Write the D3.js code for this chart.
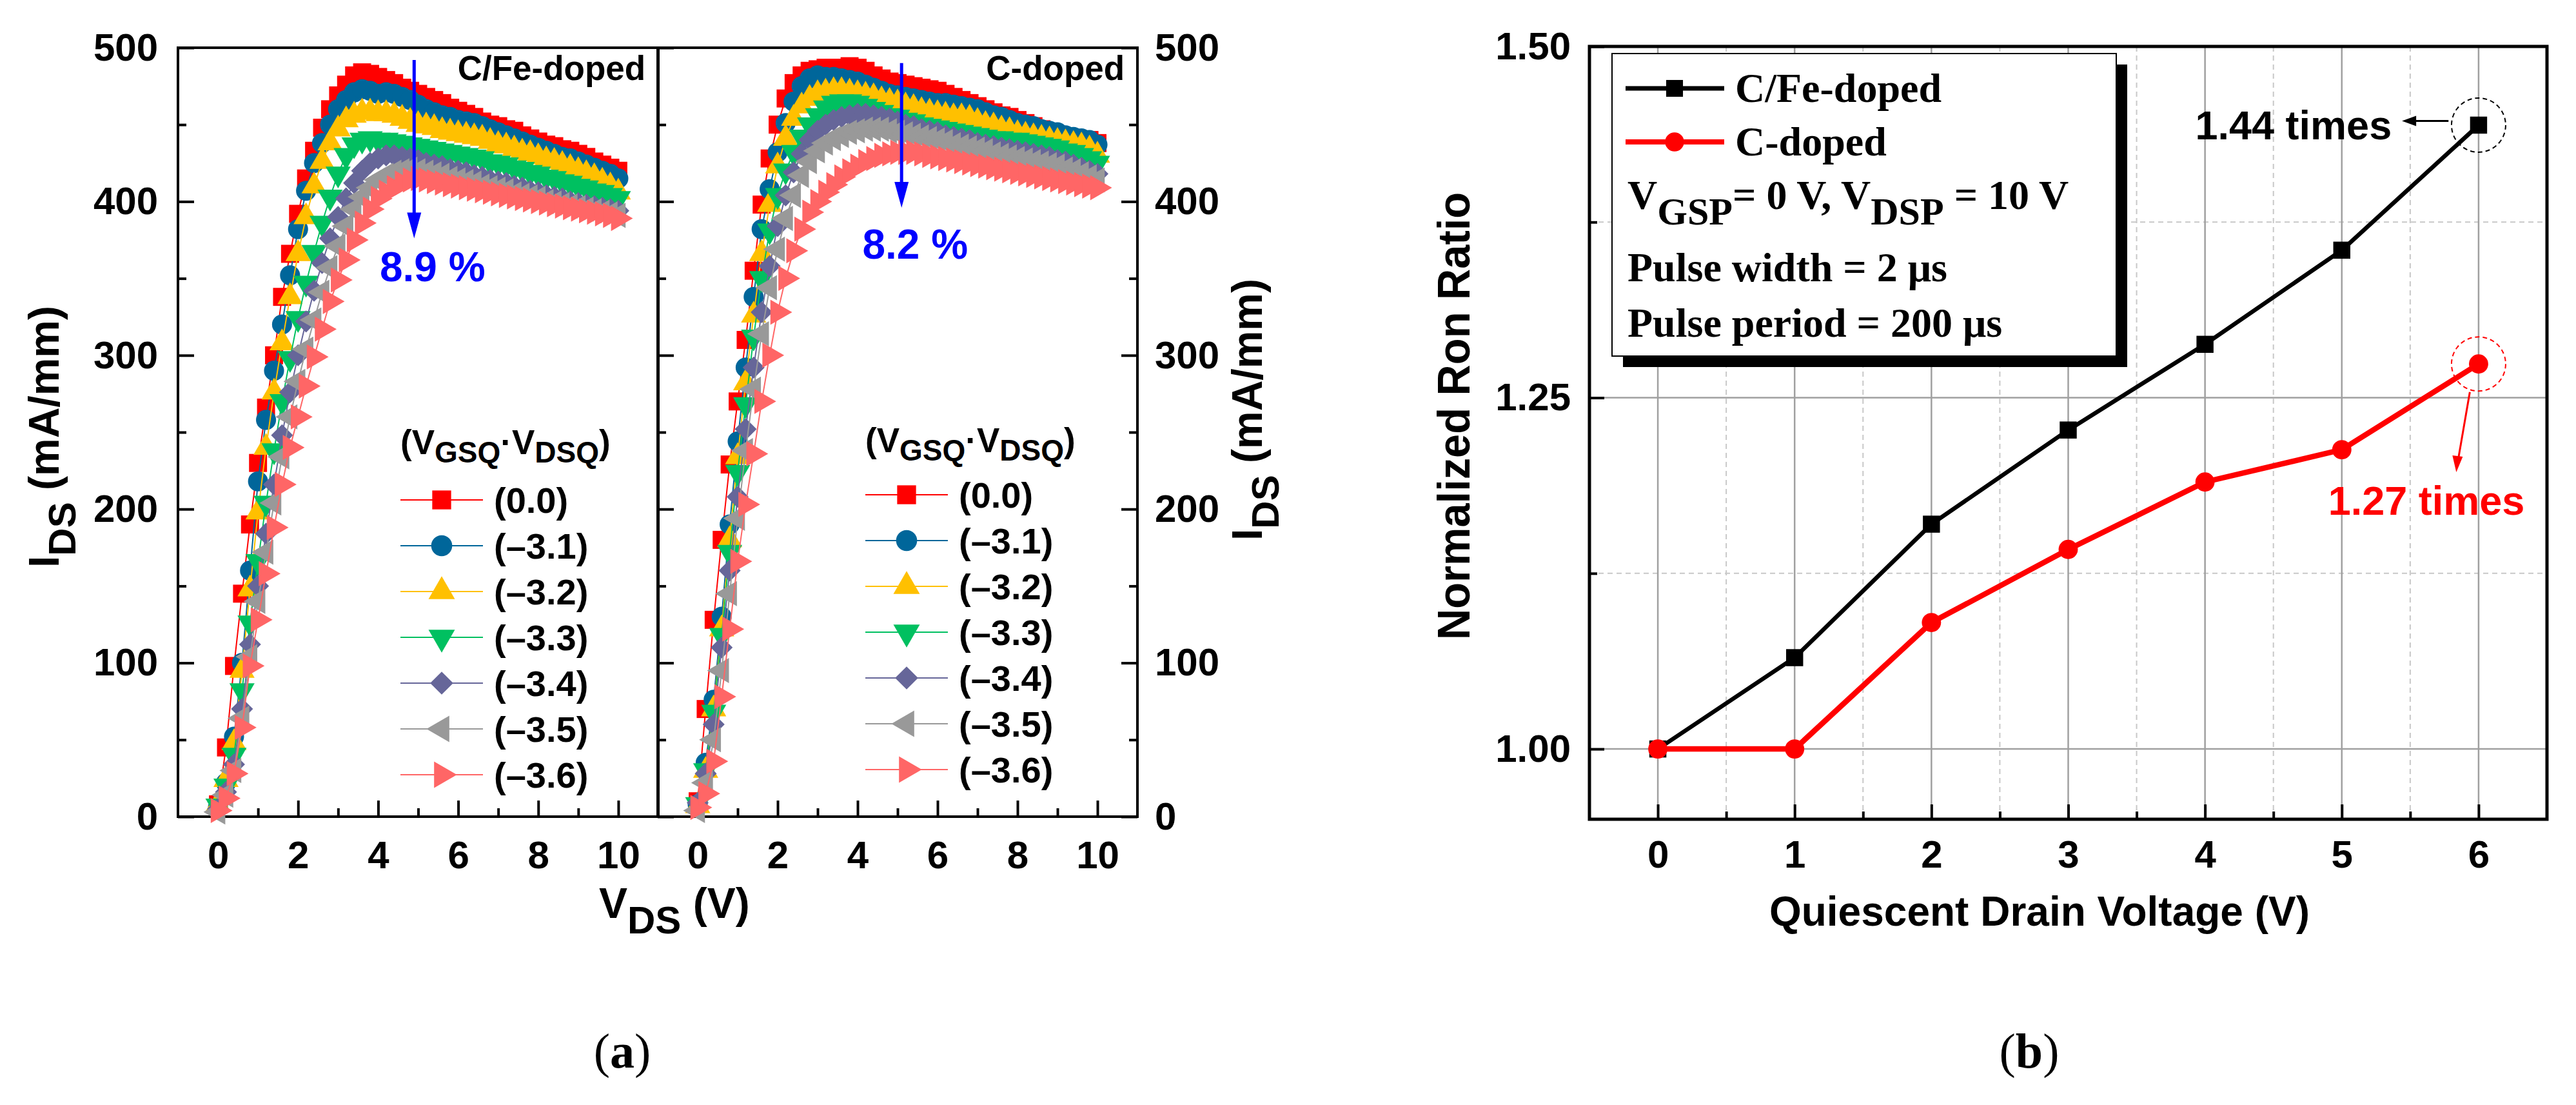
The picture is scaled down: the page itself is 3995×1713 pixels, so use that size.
<!DOCTYPE html>
<html>
<head>
<meta charset="utf-8">
<script src="https://cdn.jsdelivr.net/npm/d3@7"></script>
<style>
  body { margin: 0; background: #fff; }
</style>
</head>
<body>
<svg id="chart" width="3995" height="1713"></svg>
<script>
// ---- data: pulsed I-V (panel a) ----
const ivVoltage = [0,0.2,0.4,0.6,0.8,1,1.2,1.4,1.6,1.8,2,2.2,2.4,2.6,2.8,3,3.2,3.4,3.6,3.8,4,4.2,4.4,4.6,4.8,5,5.2,5.4,5.6,5.8,6,6.2,6.4,6.6,6.8,7,7.2,7.4,7.6,7.8,8,8.2,8.4,8.6,8.8,9,9.2,9.4,9.6,9.8,10];

const quiescentLabels = ["(0.0)", "(\u20133.1)", "(\u20133.2)", "(\u20133.3)", "(\u20133.4)", "(\u20133.5)", "(\u20133.6)"];
const seriesColors = ["#ff0000", "#00669a", "#ffc000", "#00c060", "#666699", "#999999", "#ff6666"];
const seriesShapes = ["square", "circle", "up", "down", "diamond", "left", "right"];

// C/Fe-doped buffer
const cfe00 = [8,45,98,145,190,230,266,300,338,366,392,415,433,448,460,469,476,482,484,483,481,479,477,474,472,470,468,466,464,461,459,457,455,452,450,449,447,446,443,441,439,437,436,434,433,431,429,426,424,422,420];
const cfe31 = [6,22,52,100,160,218,258,290,320,352,382,407,425,438,450,460,466,471,473,472,470,471,470,468,466,463,460,458,456,455,453,452,451,449,447,445,443,441,439,437,435,433,431,429,428,426,424,422,420,418,415];
const cfe32 = [8,24,48,95,148,198,240,276,308,338,366,390,410,426,438,447,453,456,458,458,457,457,456,454,452,450,449,448,446,445,444,443,442,441,439,437,436,434,432,431,429,427,426,424,422,420,418,416,413,410,406];
const cfe33 = [7,20,40,82,126,166,204,238,270,298,324,347,367,386,403,418,430,437,440,441,440,440,439,438,437,436,435,434,433,432,431,430,429,428,426,425,424,422,421,419,418,416,415,413,412,410,409,407,406,404,402];
const cfe34 = [5,16,34,70,112,150,184,216,248,276,300,322,342,360,376,390,402,412,420,425,428,430,430,429,428,427,425,424,423,421,420,419,417,416,414,413,412,410,409,407,406,404,403,402,400,399,398,397,396,395,394];
const cfe35 = [3,14,30,64,104,140,172,204,234,260,283,304,323,341,357,371,384,395,403,409,414,417,419,420,421,420,419,418,417,415,414,413,412,410,409,408,407,405,404,403,402,400,399,398,397,396,395,394,393,392,391];
const cfe36 = [4,12,28,58,98,128,158,188,216,240,260,280,299,317,335,349,362,375,386,395,402,406,409,412,414,415,414,413,412,411,410,409,408,407,406,405,404,403,402,401,400,399,398,397,396,395,394,393,392,391,389];

// C-doped buffer
const cd00 = [10,70,128,180,229,270,310,355,398,428,450,467,477,482,485,486,487,487,487,488,487,485,482,480,478,477,476,475,474,473,472,470,468,466,464,462,460,458,456,455,453,451,449,447,445,443,442,441,440,440,438];
const cd31 = [8,35,76,130,190,244,292,338,382,408,432,451,465,475,480,482,481,481,480,479,478,476,474,472,470,469,468,467,466,465,464,464,463,462,461,460,458,456,455,453,451,450,449,447,446,445,443,442,441,440,437];
const cd32 = [7,30,70,122,180,234,282,326,366,398,423,441,454,462,467,470,471,472,472,471,470,469,468,466,465,464,462,461,459,458,457,456,455,455,454,452,450,449,447,446,444,443,442,441,440,439,438,437,436,434,430];
const cd33 = [8,30,68,118,172,224,268,312,350,381,404,420,432,442,450,456,461,464,465,465,464,462,460,458,456,455,453,452,450,449,448,447,446,445,444,443,442,441,441,440,440,439,438,437,436,435,433,432,430,428,425];
const cd34 = [9,28,60,110,160,208,252,292,328,358,384,404,419,431,440,446,450,453,455,456,457,457,456,455,454,452,450,449,447,446,445,443,442,441,440,438,437,436,435,434,433,432,431,430,429,427,426,424,422,420,418];
const cd35 = [4,22,50,95,145,194,238,278,314,344,369,389,404,417,426,433,438,441,443,445,446,447,447,447,446,445,444,443,442,441,440,439,437,436,435,434,433,431,430,429,428,427,426,425,424,423,421,420,418,416,414];
const cd36 = [6,15,36,78,122,166,203,236,270,300,328,350,368,382,393,400,406,411,416,420,423,426,428,430,431,432,432,432,431,430,429,428,427,426,425,424,423,422,421,420,419,418,417,416,415,414,413,412,411,410,409];

const idsTicks = [0, 100, 200, 300, 400, 500];
const idsMinor = [50, 150, 250, 350, 450];
const vdsTicks = [0, 2, 4, 6, 8, 10];
const vdsMinor = [1, 3, 5, 7, 9];

// ---- data: normalized Ron (panel b) ----
const drainVoltage = [0, 1, 2, 3, 4, 5, 6];
const ronCFe = [1.000, 1.065, 1.160, 1.227, 1.288, 1.355, 1.444];
const ronC = [1.000, 1.000, 1.090, 1.142, 1.190, 1.213, 1.274];
const ronTicks = [1.00, 1.25, 1.50];
const ronMinor = [1.125, 1.375];

const SANS = '"Liberation Sans", Arial, sans-serif';
const SERIF = '"Liberation Serif", "Times New Roman", serif';

const svg = d3.select("#chart");

function markerPath(shape, size) {
    const sym = d3.symbol().size(size);
    if (shape === "square" || shape === "diamond") return sym.type(d3.symbolSquare)();
    if (shape === "circle") return sym.type(d3.symbolCircle)();
    return sym.type(d3.symbolTriangle)();
}
function markerRotate(shape) {
    return { down: 180, left: -90, right: 90, diamond: 45 }[shape] || 0;
}
function markerSize(shape) {
    return { square: 780, circle: 760, diamond: 580 }[shape] || 660;
}

function styleAxis(g, size) {
    g.select(".domain").remove();
    g.selectAll(".tick line").attr("stroke", "#000").attr("stroke-width", 4);
    g.selectAll("text")
        .attr("font-family", SANS)
        .attr("font-weight", "bold")
        .attr("font-size", size)
        .attr("fill", "#000");
}

// ===================== panel (a) =====================
const yIds = d3.scaleLinear().domain([0, 500]).range([1266, 74]);

function drawIVPanel(range, seriesList, side) {
    const x = d3.scaleLinear().domain([-1, 11]).range(range);
    const g = svg.append("g");

    // bottom axis
    g.append("g").attr("transform", `translate(0,${yIds(0)})`)
        .call(d3.axisBottom(x).tickValues(vdsTicks).tickSize(-25).tickPadding(37))
        .call(a => styleAxis(a, 60));
    g.append("g").attr("transform", `translate(0,${yIds(0)})`)
        .call(d3.axisBottom(x).tickValues(vdsMinor).tickSize(-13).tickFormat(""))
        .call(a => styleAxis(a, 60));

    // left axis (ticks inward)
    const left = d3.axisLeft(yIds).tickValues(idsTicks).tickSize(-25).tickPadding(31);
    if (side !== "left") left.tickFormat("");
    g.append("g").attr("transform", `translate(${range[0]},0)`).call(left).call(a => styleAxis(a, 60));
    g.append("g").attr("transform", `translate(${range[0]},0)`)
        .call(d3.axisLeft(yIds).tickValues(idsMinor).tickSize(-13).tickFormat(""))
        .call(a => styleAxis(a, 60));

    if (side === "right") {
        g.append("g").attr("transform", `translate(${range[1]},0)`)
            .call(d3.axisRight(yIds).tickValues(idsTicks).tickSize(-25).tickPadding(27))
            .call(a => styleAxis(a, 60));
        g.append("g").attr("transform", `translate(${range[1]},0)`)
            .call(d3.axisRight(yIds).tickValues(idsMinor).tickSize(-13).tickFormat(""))
            .call(a => styleAxis(a, 60));
    }

    // frame
    g.append("rect")
        .attr("x", range[0]).attr("y", yIds(500))
        .attr("width", range[1] - range[0]).attr("height", yIds(0) - yIds(500))
        .attr("fill", "none").attr("stroke", "#000").attr("stroke-width", 4);

    const line = d3.line().x(d => x(d[0])).y(d => yIds(d[1]));

    seriesList.forEach((vals, i) => {
        const pts = ivVoltage.map((v, k) => [v, vals[k]]);
        const sg = g.append("g");
        sg.append("path").datum(pts)
            .attr("d", line).attr("fill", "none")
            .attr("stroke", seriesColors[i]).attr("stroke-width", 2);
        sg.selectAll("path.m").data(pts).enter().append("path")
            .attr("class", "m")
            .attr("d", markerPath(seriesShapes[i], markerSize(seriesShapes[i])))
            .attr("transform", d => `translate(${x(d[0])},${yIds(d[1])}) rotate(${markerRotate(seriesShapes[i])})`)
            .attr("fill", seriesColors[i]);
    });
    return { g, x };
}

const leftPanel = drawIVPanel([276, 1021], [cfe00, cfe31, cfe32, cfe33, cfe34, cfe35, cfe36], "left");
const rightPanel = drawIVPanel([1020, 1764], [cd00, cd31, cd32, cd33, cd34, cd35, cd36], "right");

function ivAnnotations(panel, title, arrowX, y0, y1, pct, pctX, pctY, legendX, legendTitleY, legendY0) {
    const { g, x } = panel;
    g.append("text")
        .attr("x", x(10.68)).attr("y", yIds(479))
        .attr("text-anchor", "end")
        .attr("font-family", SANS).attr("font-weight", "bold").attr("font-size", 53)
        .text(title);

    // blue arrow
    const ax = x(arrowX), ya = yIds(y0), yb = yIds(y1);
    g.append("line").attr("x1", ax).attr("x2", ax).attr("y1", ya).attr("y2", yb - 30)
        .attr("stroke", "#0000ff").attr("stroke-width", 5);
    g.append("path")
        .attr("d", `M${ax - 11},${yb - 40} L${ax + 11},${yb - 40} L${ax},${yb} Z`)
        .attr("fill", "#0000ff");
    g.append("text")
        .attr("x", x(pctX)).attr("y", yIds(pctY))
        .attr("font-family", SANS).attr("font-weight", "bold").attr("font-size", 64)
        .attr("fill", "#0000ff")
        .text(pct);

    // legend
    const lt = g.append("text")
        .attr("x", legendX).attr("y", legendTitleY)
        .attr("font-family", SANS).attr("font-weight", "bold").attr("font-size", 53);
    lt.append("tspan").text("(V");
    lt.append("tspan").attr("font-size", 46).attr("dy", 13).text("GSQ");
    lt.append("tspan").attr("dy", -13).text("\u00b7V");
    lt.append("tspan").attr("font-size", 46).attr("dy", 13).text("DSQ");
    lt.append("tspan").attr("dy", -13).text(")");

    quiescentLabels.forEach((lab, i) => {
        const yy = legendY0 + i * 71;
        g.append("line")
            .attr("x1", legendX).attr("x2", legendX + 128).attr("y1", yy).attr("y2", yy)
            .attr("stroke", seriesColors[i]).attr("stroke-width", 2);
        g.append("path")
            .attr("d", markerPath(seriesShapes[i], markerSize(seriesShapes[i]) * 1.1))
            .attr("transform", `translate(${legendX + 64},${yy}) rotate(${markerRotate(seriesShapes[i])})`)
            .attr("fill", seriesColors[i]);
        g.append("text")
            .attr("x", legendX + 145).attr("y", yy).attr("dy", "0.36em")
            .attr("font-family", SANS).attr("font-weight", "bold").attr("font-size", 56)
            .text(lab);
    });
}

ivAnnotations(leftPanel, "C/Fe-doped", 4.9, 492, 376, "8.9 %", 4.04, 348, 621, 704, 775);
ivAnnotations(rightPanel, "C-doped", 5.1, 490, 396, "8.2 %", 4.12, 363, 1342, 701, 767);

// y titles of panel (a)
function idsTitle(xb, yc) {
    const t = svg.append("text")
        .attr("transform", `translate(${xb},${yc}) rotate(-90)`)
        .attr("text-anchor", "middle")
        .attr("font-family", SANS).attr("font-weight", "bold").attr("font-size", 66);
    t.append("tspan").text("I");
    t.append("tspan").attr("font-size", 60).attr("dy", 26).text("DS");
    t.append("tspan").attr("dy", -26).text(" (mA/mm)");
}
idsTitle(91, 677);
idsTitle(1957, 635);

// x title of panel (a)
const vt = svg.append("text")
    .attr("x", 929).attr("y", 1423)
    .attr("font-family", SANS).attr("font-weight", "bold").attr("font-size", 66);
vt.append("tspan").text("V");
vt.append("tspan").attr("font-size", 60).attr("dy", 24).text("DS");
vt.append("tspan").attr("dy", -24).text(" (V)");

// ===================== panel (b) =====================
const xb = d3.scaleLinear().domain([-0.5, 6.5]).range([2465, 3950]);
const yb = d3.scaleLinear().domain([0.95, 1.5]).range([1270, 72]);
const gb = svg.append("g");

// grid
const halfSteps = d3.range(0, 6).map(i => drainVoltage[i] + 0.5);
gb.selectAll("line.vmin").data(halfSteps).enter().append("line")
    .attr("x1", d => xb(d)).attr("x2", d => xb(d)).attr("y1", yb(1.5)).attr("y2", yb(0.95))
    .attr("stroke", "#c8c8c8").attr("stroke-width", 2).attr("stroke-dasharray", "8,6");
gb.selectAll("line.hmin").data(ronMinor).enter().append("line")
    .attr("x1", xb(-0.5)).attr("x2", xb(6.5)).attr("y1", d => yb(d)).attr("y2", d => yb(d))
    .attr("stroke", "#c8c8c8").attr("stroke-width", 2).attr("stroke-dasharray", "8,6");
gb.selectAll("line.vmaj").data(drainVoltage).enter().append("line")
    .attr("x1", d => xb(d)).attr("x2", d => xb(d)).attr("y1", yb(1.5)).attr("y2", yb(0.95))
    .attr("stroke", "#a0a0a0").attr("stroke-width", 2.5);
gb.selectAll("line.hmaj").data([1.00, 1.25]).enter().append("line")
    .attr("x1", xb(-0.5)).attr("x2", xb(6.5)).attr("y1", d => yb(d)).attr("y2", d => yb(d))
    .attr("stroke", "#a0a0a0").attr("stroke-width", 2.5);

// axes
gb.append("g").attr("transform", `translate(0,${yb(0.95)})`)
    .call(d3.axisBottom(xb).tickValues(drainVoltage).tickSize(-23).tickPadding(32).tickFormat(d3.format("d")))
    .call(a => styleAxis(a, 60));
gb.append("g").attr("transform", `translate(0,${yb(0.95)})`)
    .call(d3.axisBottom(xb).tickValues(halfSteps).tickSize(-12).tickFormat(""))
    .call(a => styleAxis(a, 60));
gb.append("g").attr("transform", `translate(${xb(-0.5)},0)`)
    .call(d3.axisLeft(yb).tickValues(ronTicks).tickSize(-23).tickPadding(29).tickFormat(d3.format(".2f")))
    .call(a => styleAxis(a, 60));
gb.append("g").attr("transform", `translate(${xb(-0.5)},0)`)
    .call(d3.axisLeft(yb).tickValues(ronMinor).tickSize(-12).tickFormat(""))
    .call(a => styleAxis(a, 60));

gb.append("rect")
    .attr("x", xb(-0.5)).attr("y", yb(1.5))
    .attr("width", xb(6.5) - xb(-0.5)).attr("height", yb(0.95) - yb(1.5))
    .attr("fill", "none").attr("stroke", "#000").attr("stroke-width", 5);

const ronLine = d3.line().x(d => xb(d[0])).y(d => yb(d[1]));
const cfePts = drainVoltage.map((v, i) => [v, ronCFe[i]]);
const cPts = drainVoltage.map((v, i) => [v, ronC[i]]);

gb.append("path").datum(cfePts).attr("d", ronLine)
    .attr("fill", "none").attr("stroke", "#000").attr("stroke-width", 6.5);
gb.append("path").datum(cPts).attr("d", ronLine)
    .attr("fill", "none").attr("stroke", "#ff0000").attr("stroke-width", 8.5);
gb.selectAll("path.sq").data(cfePts).enter().append("path")
    .attr("class", "sq")
    .attr("d", d3.symbol().type(d3.symbolSquare).size(700)())
    .attr("transform", d => `translate(${xb(d[0])},${yb(d[1])})`)
    .attr("fill", "#000");
gb.selectAll("path.ci").data(cPts).enter().append("path")
    .attr("class", "ci")
    .attr("d", d3.symbol().type(d3.symbolCircle).size(700)())
    .attr("transform", d => `translate(${xb(d[0])},${yb(d[1])})`)
    .attr("fill", "#ff0000");

// dashed circles + callouts
gb.append("circle").attr("cx", xb(6)).attr("cy", yb(ronCFe[6])).attr("r", 42)
    .attr("fill", "none").attr("stroke", "#000").attr("stroke-width", 2).attr("stroke-dasharray", "7,5");
gb.append("circle").attr("cx", xb(6)).attr("cy", yb(ronC[6])).attr("r", 42)
    .attr("fill", "none").attr("stroke", "#ff0000").attr("stroke-width", 2).attr("stroke-dasharray", "7,5");

gb.append("line").attr("x1", xb(5.78)).attr("x2", xb(5.50)).attr("y1", yb(1.447)).attr("y2", yb(1.447))
    .attr("stroke", "#000").attr("stroke-width", 3);
gb.append("path")
    .attr("d", `M${xb(5.44)},${yb(1.447)} L${xb(5.44) + 22},${yb(1.447) - 8} L${xb(5.44) + 22},${yb(1.447) + 8} Z`)
    .attr("fill", "#000");
gb.append("text")
    .attr("x", xb(5.365)).attr("y", yb(1.434)).attr("text-anchor", "end")
    .attr("font-family", SANS).attr("font-weight", "bold").attr("font-size", 63)
    .text("1.44 times");

const ra = [xb(5.936), yb(1.254)], rb = [xb(5.837), yb(1.197)];
gb.append("line").attr("x1", ra[0]).attr("y1", ra[1]).attr("x2", rb[0] + 3).attr("y2", rb[1] - 20)
    .attr("stroke", "#ff0000").attr("stroke-width", 3);
gb.append("path")
    .attr("d", `M${rb[0]},${rb[1]} L${rb[0] - 6},${rb[1] - 26} L${rb[0] + 10},${rb[1] - 24} Z`)
    .attr("fill", "#ff0000");
gb.append("text")
    .attr("x", xb(6.337)).attr("y", yb(1.1667)).attr("text-anchor", "end")
    .attr("font-family", SANS).attr("font-weight", "bold").attr("font-size", 63)
    .attr("fill", "#ff0000")
    .text("1.27 times");

// legend box with shadow
const lb = { x: 2500, y: 83, w: 782, h: 469 };
gb.append("rect").attr("x", lb.x + 17).attr("y", lb.y + 17).attr("width", lb.w).attr("height", lb.h).attr("fill", "#000");
gb.append("rect").attr("x", lb.x).attr("y", lb.y).attr("width", lb.w).attr("height", lb.h)
    .attr("fill", "#fff").attr("stroke", "#000").attr("stroke-width", 2);

function serifText(xp, yp) {
    return gb.append("text").attr("x", xp).attr("y", yp)
        .attr("font-family", SERIF).attr("font-weight", "bold").attr("font-size", 64);
}
gb.append("line").attr("x1", 2521).attr("x2", 2674).attr("y1", 137).attr("y2", 137).attr("stroke", "#000").attr("stroke-width", 7);
gb.append("path").attr("d", d3.symbol().type(d3.symbolSquare).size(680)()).attr("transform", "translate(2597,137)").attr("fill", "#000");
serifText(2691, 158).text("C/Fe-doped");
gb.append("line").attr("x1", 2521).attr("x2", 2674).attr("y1", 220).attr("y2", 220).attr("stroke", "#ff0000").attr("stroke-width", 8);
gb.append("path").attr("d", d3.symbol().type(d3.symbolCircle).size(680)()).attr("transform", "translate(2597,220)").attr("fill", "#ff0000");
serifText(2691, 241).text("C-doped");
const vg = serifText(2524, 324);
vg.append("tspan").text("V");
vg.append("tspan").attr("font-size", 60).attr("dy", 24).text("GSP");
vg.append("tspan").attr("dy", -24).text("= 0 V, V");
vg.append("tspan").attr("font-size", 60).attr("dy", 24).text("DSP");
vg.append("tspan").attr("dy", -24).text(" = 10 V");
serifText(2524, 436).text("Pulse width = 2 \u03bcs");
serifText(2524, 522).text("Pulse period = 200 \u03bcs");

// axis titles of panel (b)
svg.append("text")
    .attr("transform", `translate(2279,645) rotate(-90)`)
    .attr("text-anchor", "middle")
    .attr("font-family", SANS).attr("font-weight", "bold").attr("font-size", 70)
    .attr("textLength", 694).attr("lengthAdjust", "spacingAndGlyphs")
    .text("Normalized Ron Ratio");
svg.append("text")
    .attr("x", 3163).attr("y", 1435).attr("text-anchor", "middle")
    .attr("font-family", SANS).attr("font-weight", "bold").attr("font-size", 64)
    .text("Quiescent Drain Voltage (V)");

// sub-figure captions
function caption(cx, letter) {
    const t = svg.append("text").attr("x", cx).attr("y", 1655).attr("text-anchor", "middle")
        .attr("font-family", SERIF).attr("font-size", 76);
    t.append("tspan").text("(");
    t.append("tspan").attr("font-weight", "bold").text(letter);
    t.append("tspan").text(")");
}
caption(965, "a");
caption(3147, "b");
</script>
</body>
</html>
